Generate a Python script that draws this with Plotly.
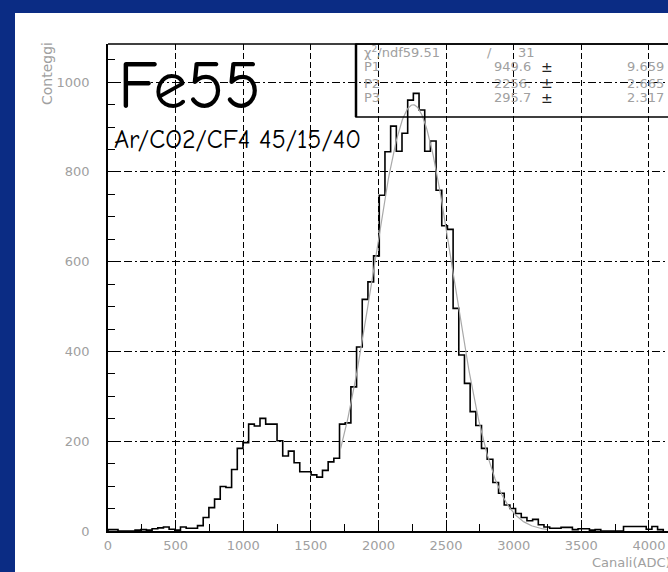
import math
import plotly.graph_objects as go

# ---------------- data ----------------
bin_width = 42
first_edge = 32
counts = [3, 0, 0, 0, 2, 3, 2, 5, 7, 9,
          4, 2, 9, 6, 6, 12, 30, 52, 71, 99,
          97, 137, 184, 197, 238, 234, 251, 238, 238, 201,
          167, 178, 152, 132, 132, 125, 120, 135, 154, 162,
          238, 241, 321, 410, 516, 555, 613, 748, 845, 902,
          846, 886, 960, 975, 938, 846, 869, 759, 680, 672,
          496, 392, 329, 266, 235, 184, 160, 108, 84, 58,
          50, 39, 30, 23, 26, 14, 9, 6, 6, 8,
          8, 3, 5, 5, 2, 3, 0, 0, 0, 0,
          10, 10, 10, 10, 4, 10, 3]

# fit parameters shown in the stats box
chi2, ndf = 59.51, 31
P1, P2, P3 = 949.6, 2256.0, 295.7
E1, E2, E3 = 9.659, 2.665, 2.317
fit_lo, fit_hi = 1720, 3250

x_ticks = [0, 500, 1000, 1500, 2000, 2500, 3000, 3500, 4000]
y_ticks = [0, 200, 400, 600, 800, 1000]

# ---------------- build ----------------
hx, hy = [0, 0], [0, counts[0]]
for k, c in enumerate(counts):
    hx.append(first_edge + k * bin_width)
    hy.append(c)
last = first_edge + len(counts) * bin_width
hx += [last, last]
hy += [counts[-1], 0]

n = 300
fx = [fit_lo + (fit_hi - fit_lo) * i / (n - 1) for i in range(n)]
fy = [P1 * math.exp(-0.5 * ((v - P2) / P3) ** 2) for v in fx]

W, H = 668, 572
L, R, T, B = 108, 668, 44, 531


def px(x):
    return (x - L) / (R - L)


def py(y):
    return (B - y) / (B - T)


fig = go.Figure()
fig.add_trace(go.Scatter(x=hx, y=hy, mode="lines", line=dict(color="black", width=1.6, shape="hv"),
                         hoverinfo="skip", showlegend=False))
fig.add_trace(go.Scatter(x=fx, y=fy, mode="lines", line=dict(color="#a8a8a8", width=1.2),
                         hoverinfo="skip", showlegend=False))

grey = "#a0a0a0"
sans = "DejaVu Sans, Verdana, sans-serif"
tickfont = dict(family=sans, size=13, color=grey)

fig.update_xaxes(range=[0, 4141], tickvals=x_ticks, ticktext=[str(v) for v in x_ticks],
                 ticks="inside", ticklen=11, tickcolor="black", tickwidth=1.2,
                 showline=True, linecolor="black", linewidth=1.5, mirror=False,
                 showgrid=True, gridcolor="black", gridwidth=1, griddash="6px,3px",
                 zeroline=False, tickfont=tickfont, ticklabelstandoff=2,
                 minor=dict(dtick=250, tick0=0, ticks="inside", ticklen=7, tickcolor="black", showgrid=False))
fig.update_yaxes(range=[0, 1085], tickvals=y_ticks, ticktext=[str(v) for v in y_ticks],
                 ticks="inside", ticklen=11, tickcolor="black", tickwidth=1.2,
                 showline=True, linecolor="black", linewidth=1.5, mirror=False,
                 showgrid=True, gridcolor="black", gridwidth=1, griddash="8px,3px,2px,3px",
                 zeroline=False, tickfont=tickfont, ticklabelstandoff=14,
                 minor=dict(dtick=50, tick0=0, ticks="inside", ticklen=7, tickcolor="black", showgrid=False))

shapes = [
    # white slide panel
    dict(type="rect", xref="paper", yref="paper", x0=px(15), x1=px(700), y0=py(600), y1=py(13),
         fillcolor="white", line=dict(width=0), layer="below"),
    # top frame line
    dict(type="line", xref="paper", yref="paper", x0=0, x1=1.05, y0=1, y1=1,
         line=dict(color="black", width=1.5)),
    # stats box
    dict(type="rect", xref="paper", yref="paper", x0=px(356), x1=px(700), y0=py(117), y1=1,
         line=dict(color="black", width=1.5), fillcolor="rgba(0,0,0,0)"),
    dict(type="line", xref="paper", yref="paper", x0=px(356), x1=px(356), y0=py(117), y1=1,
         line=dict(color="black", width=2.5)),
]

ann = []


def add(text, x, y, size, color, xanchor="left", angle=0, family=sans):
    ann.append(dict(text=text, x=px(x), y=py(y), xref="paper", yref="paper", showarrow=False,
                    xanchor=xanchor, yanchor="middle", textangle=angle,
                    font=dict(size=size, color=color, family=family)))


comic = "Comic Sans MS, Comic Neue, Noto Sans, sans-serif"
add("Fe55", 116, 86, 68, "black", family=comic)
add("Ar/CO2/CF4 45/15/40", 112, 140, 26, "black", family=comic)
add("Conteggi", 47, 74, 14, grey, xanchor="center", angle=-90)
add("Canali(ADC)", 590, 562, 13, grey)

rows_y = [52, 67, 83, 98]
add("χ<sup>2</sup>/ndf59.51", 362, rows_y[0], 13, grey)
add("/", 485, rows_y[0], 13, grey)
add("%d" % ndf, 516, rows_y[0], 13, grey)
labels = ["P1", "P2", "P3"]
vals = ["%.1f" % P1, "%d." % int(P2), "%.1f" % P3]
errs = ["%.3f" % E1, "%.3f" % E2, "%.3f" % E3]
for i in range(3):
    yy = rows_y[i + 1]
    add(labels[i], 362, yy, 13, grey)
    add(vals[i], 533, yy, 13, grey, xanchor="right")
    add("±", 555, yy, 14, "#222222", xanchor="right")
    add(errs[i], 666, yy, 13, grey, xanchor="right")

fig.update_layout(width=W, height=H, autosize=False,
                  margin=dict(l=L, r=W - R, t=T, b=H - B, pad=0),
                  paper_bgcolor="#0b2c84", plot_bgcolor="white",
                  shapes=shapes, annotations=ann, showlegend=False)

fig.write_html("out.html")
